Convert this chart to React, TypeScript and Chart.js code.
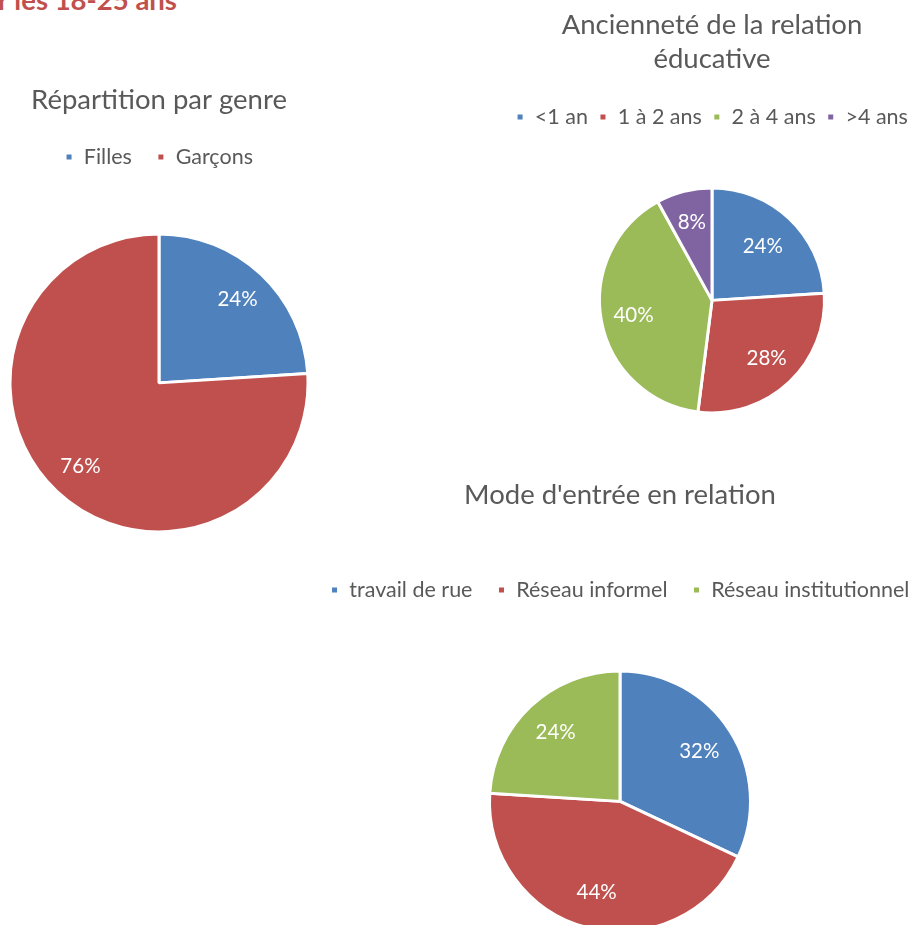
import React, { useEffect, useRef } from "react";
import { Chart, registerables } from "chart.js";

Chart.register(...registerables);

// ---- Data ----
const genreLabels = ["Filles", "Garçons"];
const genreValues = [24, 76];

const ancienneteLabels = ["<1 an", "1 à 2 ans", "2 à 4 ans", ">4 ans"];
const ancienneteValues = [24, 28, 40, 8];

const modeLabels = ["travail de rue", "Réseau informel", "Réseau institutionnel"];
const modeValues = [32, 44, 24];

const palette = ["#4F81BD", "#C0504D", "#9BBB59", "#8064A2"];
const FONT = "Lato, 'Open Sans', sans-serif";
const TEXT = "#595959";

const pctLabels = {
  id: "pctLabels",
  afterDatasetsDraw(chart: any, _args: any, opts: any) {
    const ctx = chart.ctx;
    const meta = chart.getDatasetMeta(0);
    const data = chart.data.datasets[0].data as number[];
    const total = data.reduce((a, b) => a + b, 0);
    ctx.save();
    ctx.fillStyle = "#ffffff";
    ctx.font = `${opts.size || 20}px ${FONT}`;
    ctx.textAlign = "center";
    ctx.textBaseline = "middle";
    meta.data.forEach((arc: any, i: number) => {
      const { x, y, startAngle, endAngle, outerRadius } = arc.getProps(
        ["x", "y", "startAngle", "endAngle", "outerRadius"],
        true
      );
      const mid = (startAngle + endAngle) / 2;
      const f = (opts.fractions && opts.fractions[i]) || opts.fraction || 0.72;
      const px = x + Math.cos(mid) * outerRadius * f;
      const py = y + Math.sin(mid) * outerRadius * f;
      ctx.fillText(Math.round((data[i] / total) * 100) + "%", px, py);
    });
    ctx.restore();
  },
};

type PieProps = {
  labels: string[];
  values: number[];
  title: string | string[];
  titleLineHeight: number;
  titlePad: { top: number; bottom: number };
  legendPad: number;
  radius: number;
  fraction: number;
  fractions?: number[];
  style: React.CSSProperties;
  width: number;
  height: number;
};

function Pie(p: PieProps) {
  const ref = useRef<HTMLCanvasElement>(null);
  useEffect(() => {
    if (!ref.current) return;
    const chart = new Chart(ref.current, {
      type: "pie",
      data: {
        labels: p.labels,
        datasets: [
          {
            data: p.values,
            backgroundColor: palette.slice(0, p.values.length),
            borderColor: "#ffffff",
            borderWidth: 3,
          },
        ],
      },
      options: {
        responsive: false,
        animation: false,
        radius: p.radius,
        plugins: {
          title: {
            display: true,
            text: p.title,
            color: TEXT,
            font: { family: FONT, size: 27.5, weight: "normal", lineHeight: p.titleLineHeight },
            padding: p.titlePad,
          },
          legend: {
            display: true,
            position: "top",
            labels: {
              color: TEXT,
              font: { family: FONT, size: 21.5 },
              boxWidth: 8,
              boxHeight: 8,
              padding: p.legendPad,
            },
          },
          tooltip: { enabled: false },
          pctLabels: { fraction: p.fraction, fractions: p.fractions, size: 20.5 },
        } as any,
      } as any,
      plugins: [pctLabels],
    });
    return () => chart.destroy();
  }, []);
  return (
    <canvas
      ref={ref}
      width={p.width}
      height={p.height}
      style={{ position: "absolute", width: p.width, height: p.height, ...p.style }}
    />
  );
}

export default function App() {
  return (
    <div
      style={{
        position: "absolute",
        left: 0,
        top: 0,
        width: 920,
        height: 925,
        overflow: "hidden",
        background: "#ffffff",
      }}
    >
      <div
        style={{
          position: "absolute",
          left: -2,
          top: -14,
          fontFamily: FONT,
          fontWeight: "bold",
          fontSize: 27.5,
          lineHeight: 1,
          color: "#C0504D",
          whiteSpace: "nowrap",
        }}
      >
        r les 18-25 ans
      </div>
      <Pie
        labels={genreLabels}
        values={genreValues}
        title="Répartition par genre"
        titleLineHeight={1.2}
        titlePad={{ top: 23.5, bottom: 4.75 }}
        legendPad={25}
        radius={149}
        fraction={0.77}
        style={{ left: 10, top: 60 }}
        width={298}
        height={528}
      />
      <Pie
        labels={ancienneteLabels}
        values={ancienneteValues}
        title={["Ancienneté de la relation", "éducative"]}
        titleLineHeight={34 / 27.5}
        titlePad={{ top: 8, bottom: 19.25 }}
        legendPad={11}
        radius={112.5}
        fraction={0.7}
        fractions={[0.66, 0.71, 0.71, 0.72]}
        style={{ left: 482, top: 0 }}
        width={460}
        height={463}
      />
      <Pie
        labels={modeLabels}
        values={modeValues}
        title="Mode d'entrée en relation"
        titleLineHeight={1.2}
        titlePad={{ top: 18.5, bottom: 42.75 }}
        legendPad={25}
        radius={130.5}
        fraction={0.72}
        style={{ left: 280, top: 460 }}
        width={680}
        height={532}
      />
    </div>
  );
}
